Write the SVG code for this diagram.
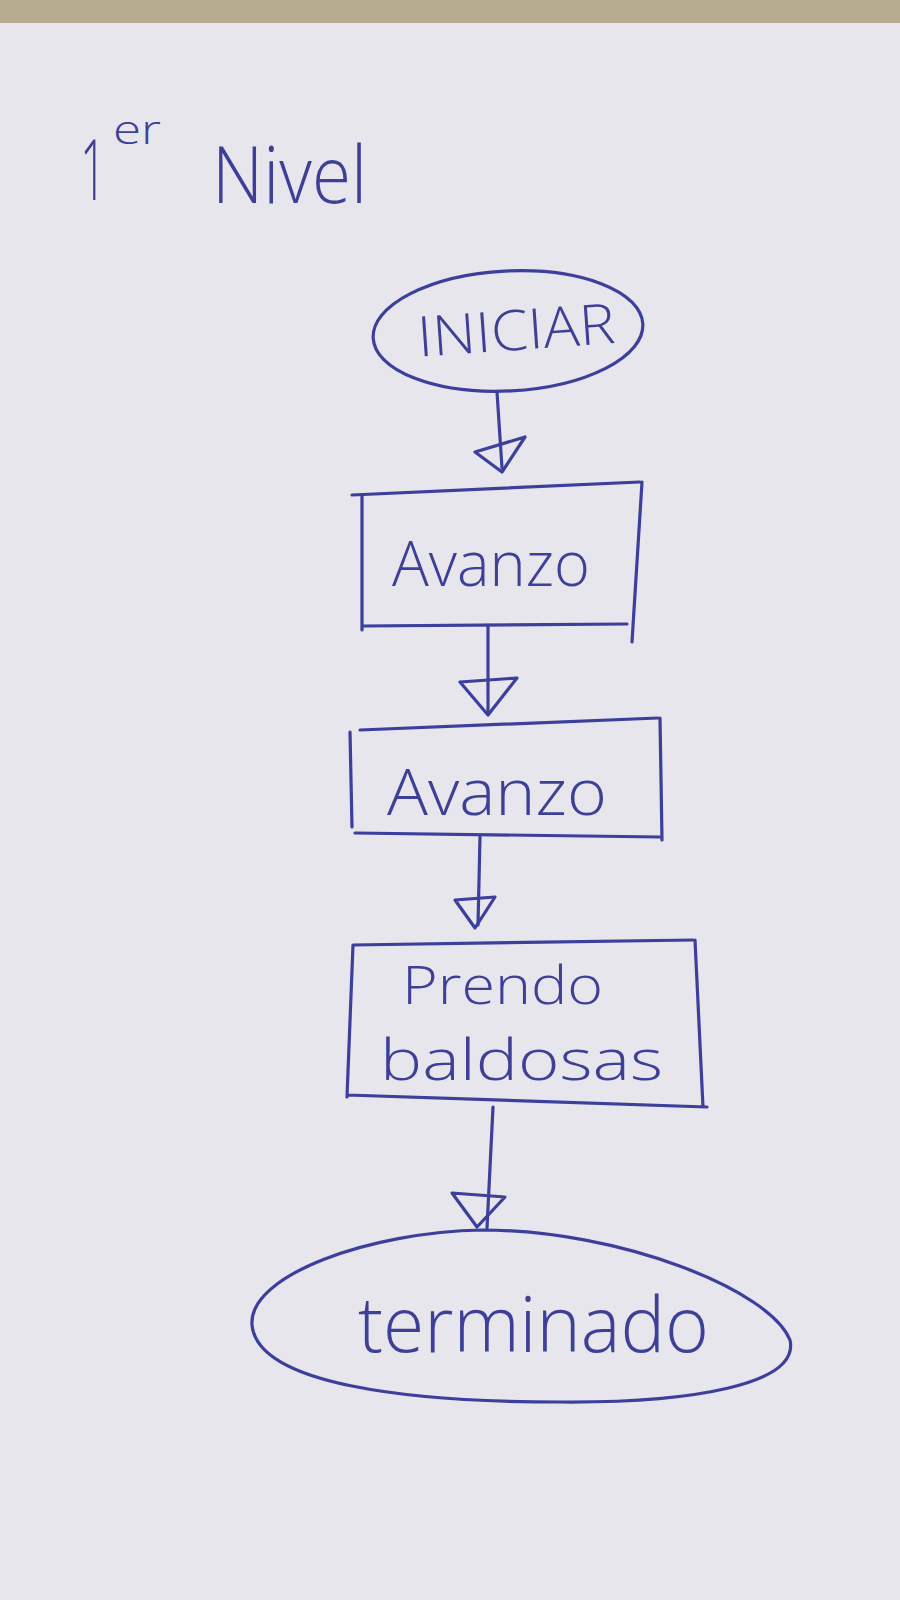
<svg xmlns="http://www.w3.org/2000/svg" width="900" height="1600" viewBox="0 0 900 1600">
<style>
.ink{fill:none;stroke:#3c3f9c;stroke-width:3.2;stroke-linecap:round;stroke-linejoin:round}
.lbl{font-family:"Open Sans","Roboto","Liberation Sans",sans-serif;fill:#3d4096;font-weight:300}
</style>
<rect x="0" y="0" width="900" height="1600" fill="#e6e6ec"/>
<rect x="0" y="0" width="900" height="23" fill="#b6ab8e"/>
<g id="title">
<text class="lbl" x="0" y="0" font-size="84" transform="translate(80 200) scale(0.55 1)">1</text>
<text class="lbl" x="113" y="144" font-size="40" textLength="48" lengthAdjust="spacingAndGlyphs">er</text>
<text class="lbl" x="212" y="203" font-size="80" textLength="155" lengthAdjust="spacingAndGlyphs">Nivel</text>
</g>
<g id="connectors">
<path class="ink" d="M497 392 L502 468"/>
<path class="ink" d="M475 452 L525 437 L502 472 Z"/>
<path class="ink" d="M488 625 L488 712"/>
<path class="ink" d="M460 682 L517 678 L488 715 Z"/>
<path class="ink" d="M480 837 L478 925"/>
<path class="ink" d="M455 900 L495 897 L475 928 Z"/>
<path class="ink" d="M493 1107 L487 1228"/>
<path class="ink" d="M452 1193 L505 1197 L477 1227 Z"/>
</g>
<g id="iniciar">
<ellipse class="ink" cx="508" cy="331" rx="135" ry="60" transform="rotate(-3 508 331)"/>
<text class="lbl" x="417" y="350" font-size="56" textLength="198" lengthAdjust="spacingAndGlyphs" transform="rotate(-4 516 330)">INICIAR</text>
</g>
<g id="avanzo1">
<path class="ink" d="M352 495 L640 482 M362 495 L362 630 M362 626 L627 624 M642 482 L632 642"/>
<text class="lbl" x="392" y="586" font-size="62" textLength="198" lengthAdjust="spacingAndGlyphs">Avanzo</text>
</g>
<g id="avanzo2">
<path class="ink" d="M360 730 L658 718 M350 732 L352 827 M355 833 L660 837 M660 718 L662 840"/>
<text class="lbl" x="387" y="815" font-size="64" textLength="220" lengthAdjust="spacingAndGlyphs">Avanzo</text>
</g>
<g id="prendo">
<path class="ink" d="M353 945 L693 940 M353 945 L347 1097 M347 1095 L707 1107 M695 940 L703 1107"/>
<text class="lbl" x="402" y="1004" font-size="54" textLength="201" lengthAdjust="spacingAndGlyphs">Prendo</text>
<text class="lbl" x="380" y="1080" font-size="57" textLength="283" lengthAdjust="spacingAndGlyphs">baldosas</text>
</g>
<g id="terminado">
<path class="ink" d="M482 1230 C620 1230 770 1290 790 1340 C800 1385 690 1403 560 1402 C410 1402 258 1385 252 1325 C248 1275 370 1232 482 1230 Z"/>
<text class="lbl" x="358" y="1352" font-size="78" textLength="351" lengthAdjust="spacingAndGlyphs">terminado</text>
</g>
</svg>
